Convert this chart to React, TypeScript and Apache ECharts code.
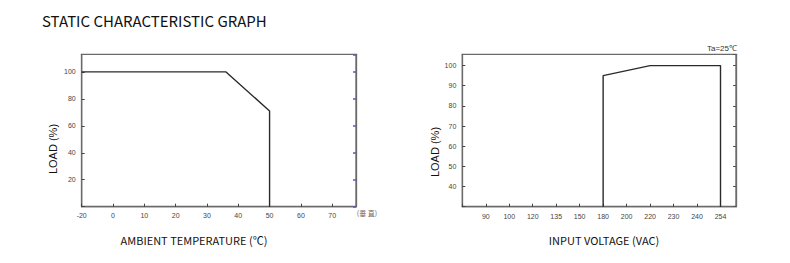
import React, { useEffect, useRef } from "react";
import * as echarts from "echarts";

// Left chart: derating vs ambient temperature
const tempTicks = [-10, 0, 10, 20, 30, 40, 50, 60, 70];
const tempTickLabels = ["-20", "0", "10", "20", "30", "40", "50", "60", "70"];
const tempX = [-10, 36, 50, 50];
const tempLoad = [100, 100, 71, 0];
const tempYTicks = [20, 40, 60, 80, 100];

// Right chart: load vs input voltage (category-like evenly spaced ticks)
const voltCategories = ["90", "100", "120", "135", "150", "180", "200", "220", "230", "240", "254"];
const voltX = [180, 180, 220, 254, 254];
const voltLoad = [30, 95, 100, 100, 30];

export default function App() {
  const ref = useRef<HTMLDivElement>(null);
  useEffect(() => {
    if (!ref.current) return;
    const chart = echarts.init(ref.current, null, { renderer: "svg" });
    const vIdx = (v: number) => voltCategories.indexOf(String(v)) + 1;
    const labelStyle = { fontFamily: "Liberation Sans, Arial", fontSize: 7, color: "#444" };
    const boxColor = "#6a6a6a";
    const line = { show: true, onZero: false, lineStyle: { color: boxColor, width: 1.3 } };
    const tick = (color: string, width = 1) => ({ show: true, inside: true, length: 3, lineStyle: { color, width } });
    chart.setOption({
      animation: false,
      backgroundColor: "#fff",
      grid: [
        { left: 81.7, top: 54.3, width: 274.3, height: 152.4, show: true, borderColor: boxColor, borderWidth: 1.3, containLabel: false },
        { left: 462.3, top: 54.3, width: 273.7, height: 152.4, show: true, borderColor: boxColor, borderWidth: 1.3, containLabel: false },
      ],
      xAxis: [
        {
          type: "value", gridIndex: 0, min: -10, max: 77.6, interval: 10,
          axisLine: line, axisTick: tick("#444"), splitLine: { show: false },
          axisLabel: {
            ...labelStyle, margin: 5, showMaxLabel: false,
            formatter: (v: number) => {
              const i = tempTicks.indexOf(v);
              return i >= 0 ? tempTickLabels[i] : "";
            },
          },
        },
        {
          type: "value", gridIndex: 1, min: 0, max: 11.66, interval: 1,
          axisLine: line, axisTick: tick("#444"), splitLine: { show: false },
          axisLabel: {
            ...labelStyle, margin: 6, showMaxLabel: false,
            formatter: (v: number) => (v >= 1 && v <= voltCategories.length ? voltCategories[v - 1] : ""),
          },
        },
      ],
      yAxis: [
        {
          type: "value", gridIndex: 0, min: 0, max: 113, interval: 20,
          axisLine: line, axisTick: tick("#444"), splitLine: { show: false },
          axisLabel: {
            ...labelStyle, margin: 6, showMaxLabel: false,
            formatter: (v: number) => (tempYTicks.indexOf(v) >= 0 ? String(v) : ""),
          },
        },
        {
          type: "value", gridIndex: 0, min: 0, max: 113, interval: 20, position: "right",
          axisLine: line, axisTick: tick("#5555dd", 1.5), splitLine: { show: false },
          axisLabel: { show: false },
        },
        {
          type: "value", gridIndex: 1, min: 30, max: 105.6, interval: 10,
          axisLine: line, axisTick: tick("#444"), splitLine: { show: false },
          axisLabel: {
            ...labelStyle, margin: 6, showMaxLabel: false,
            formatter: (v: number) => (v >= 40 && v <= 100 ? String(v) : ""),
          },
        },
        {
          type: "value", gridIndex: 1, min: 30, max: 105.6, interval: 10, position: "right",
          axisLine: line, axisTick: tick("#555"), splitLine: { show: false },
          axisLabel: { show: false },
        },
      ],
      series: [
        {
          type: "line", xAxisIndex: 0, yAxisIndex: 0, symbol: "none",
          data: tempX.map((x, i) => [x, tempLoad[i]]),
          lineStyle: { color: "#2a2a2a", width: 1.4 },
        },
        {
          type: "line", xAxisIndex: 1, yAxisIndex: 2, symbol: "none",
          data: voltX.map((x, i) => [vIdx(x), voltLoad[i]]),
          lineStyle: { color: "#2a2a2a", width: 1.4 },
        },
      ],
      graphic: [
        {
          type: "text", left: 42, top: 13,
          style: { text: "STATIC CHARACTERISTIC GRAPH", fontFamily: "Noto Sans CJK SC", fontSize: 15, fill: "#111" },
        },
        {
          type: "text", x: 53, y: 149, rotation: Math.PI / 2,
          style: { text: "LOAD (%)", fontFamily: "Liberation Sans, Arial", fontSize: 11, fill: "#111", align: "center", verticalAlign: "middle" },
        },
        {
          type: "text", x: 435, y: 152, rotation: Math.PI / 2,
          style: { text: "LOAD (%)", fontFamily: "Liberation Sans, Arial", fontSize: 11, fill: "#111", align: "center", verticalAlign: "middle" },
        },
        {
          type: "text", x: 194, y: 240,
          style: { text: "AMBIENT TEMPERATURE (℃)", fontFamily: "Noto Sans CJK SC", fontSize: 11, fill: "#111", align: "center", verticalAlign: "middle" },
        },
        {
          type: "text", x: 604, y: 240,
          style: { text: "INPUT VOLTAGE (VAC)", fontFamily: "Noto Sans CJK SC", fontSize: 11, fill: "#111", align: "center", verticalAlign: "middle" },
        },
        {
          type: "text", x: 367, y: 213,
          style: { text: "(垂 直)", fontFamily: "Noto Sans CJK SC", fontSize: 7, fill: "#666", align: "center", verticalAlign: "middle" },
        },
        {
          type: "text", x: 737, y: 48,
          style: { text: "Ta=25℃", fontFamily: "Liberation Sans, Arial", fontSize: 8, fill: "#333", align: "right", verticalAlign: "middle" },
        },
      ],
    });
    return () => chart.dispose();
  }, []);
  return <div ref={ref} style={{ position: "fixed", left: 0, top: 0, width: 790, height: 263 }} />;
}
